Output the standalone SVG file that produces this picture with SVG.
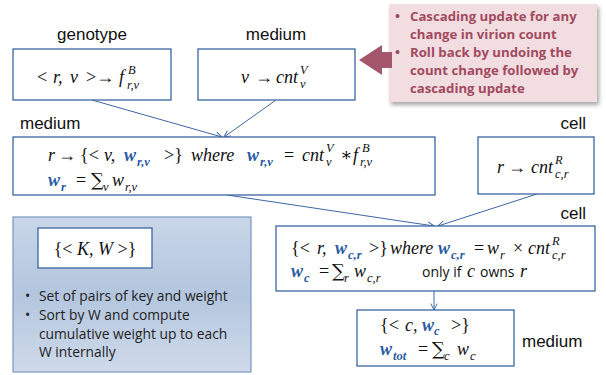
<svg xmlns="http://www.w3.org/2000/svg" width="606" height="375" viewBox="0 0 606 375">
<defs>
<style>
.box{fill:#fff;stroke:#3c66a3;stroke-width:1.3}
.lbl{font-family:"Liberation Sans",Arial,sans-serif;font-size:17px;fill:#111}
.m{font-family:"Liberation Serif","DejaVu Serif",serif;font-style:italic;font-size:18px;fill:#111}
.u{font-style:normal}
.b{font-weight:bold;fill:#2a5ba3}
.s{font-size:12.5px}
.sum{font-family:"DejaVu Serif",serif;font-style:normal;font-size:18px}
.sans{font-family:"Open Sans","Liberation Sans",sans-serif;font-style:normal;font-size:14px}
.call{font-family:"Open Sans","Liberation Sans",sans-serif;font-weight:bold;font-size:13.2px;fill:#a24a60}
.leg{font-family:"Open Sans","Liberation Sans",sans-serif;font-size:13.8px;fill:#222}
.conn line{stroke:#3c66a3;stroke-width:1;marker-end:url(#ah)}
</style>
<marker id="ah" viewBox="0 0 10 10" refX="9" refY="5" markerWidth="8" markerHeight="8" orient="auto" markerUnits="userSpaceOnUse">
<path d="M1,1 L9,5 L1,9" fill="none" stroke="#3c66a3" stroke-width="1.2"/>
</marker>
<linearGradient id="lg" x1="0" y1="0" x2="0" y2="1">
<stop offset="0" stop-color="#c9d6e8"/>
<stop offset="0.5" stop-color="#b3c6de"/>
<stop offset="1" stop-color="#cfdaea"/>
</linearGradient>
<filter id="sh" x="-10%" y="-10%" width="130%" height="130%">
<feGaussianBlur in="SourceAlpha" stdDeviation="2"/>
<feOffset dx="2" dy="3"/>
<feComponentTransfer><feFuncA type="linear" slope="0.35"/></feComponentTransfer>
<feMerge><feMergeNode/><feMergeNode in="SourceGraphic"/></feMerge>
</filter>
</defs>

<g id="connectors" class="conn">
<line x1="92" y1="100" x2="222" y2="137"/>
<line x1="276" y1="100" x2="224" y2="137"/>
<line x1="227" y1="195" x2="434" y2="226"/>
<line x1="537" y1="194" x2="438" y2="226"/>
<line x1="434" y1="291" x2="434" y2="310"/>
</g>

<g id="callout">
<rect x="389" y="4" width="208" height="98" fill="#f2dde0" filter="url(#sh)"/>
<path d="M359,60 L382,45 L382,52 L392,52 L392,68 L382,68 L382,75 Z" fill="#a4566a"/>
<text class="call" x="395" y="21">•</text>
<text class="call" x="410" y="21">Cascading update for any</text>
<text class="call" x="410" y="39">change in virion count</text>
<text class="call" x="395" y="57">•</text>
<text class="call" x="410" y="57">Roll back by undoing the</text>
<text class="call" x="410" y="75">count change followed by</text>
<text class="call" x="410" y="93">cascading update</text>
</g>

<g id="genotype">
<text class="lbl" x="92" y="40" text-anchor="middle">genotype</text>
<rect class="box" x="13" y="49" width="158" height="51"/>
<text class="m" y="83"><tspan x="37" class="u">&lt;</tspan><tspan x="53">r,</tspan><tspan x="70">v</tspan><tspan x="86" class="u">&gt;→</tspan><tspan x="119">f</tspan></text>
<text class="m s" x="128" y="74">B</text>
<text class="m s" x="127" y="89">r,v</text>
</g>

<g id="medium-v">
<text class="lbl" x="276" y="40" text-anchor="middle">medium</text>
<rect class="box" x="198" y="49" width="157" height="51"/>
<text class="m" y="83"><tspan x="241">v</tspan><tspan x="255" class="u">→</tspan><tspan x="276">cnt</tspan></text>
<text class="m s" x="300" y="74">V</text>
<text class="m s" x="300" y="88">v</text>
</g>

<g id="medium-r">
<text class="lbl" x="20" y="129">medium</text>
<rect class="box" x="13" y="137" width="422" height="58"/>
<text class="m" y="161"><tspan x="48">r</tspan><tspan x="58" class="u">→</tspan><tspan x="80" class="u">{&lt;</tspan><tspan x="104">v,</tspan><tspan x="124" class="b">w</tspan><tspan x="164" class="u">&gt;}</tspan><tspan x="191">where</tspan><tspan x="247" class="b">w</tspan><tspan x="284" class="u">=</tspan><tspan x="302">cnt</tspan><tspan x="340" class="u">∗</tspan><tspan x="353">f</tspan></text>
<text class="m s b" x="137" y="166">r,v</text>
<text class="m s b" x="260" y="166">r,v</text>
<text class="m s" x="326" y="152">V</text>
<text class="m s" x="326" y="166">v</text>
<text class="m s" x="362" y="152">B</text>
<text class="m s" x="360" y="166">r,v</text>
<text class="m" y="186"><tspan x="48" class="b">w</tspan><tspan x="76" class="u">=</tspan><tspan x="91" class="sum">∑</tspan><tspan x="112">w</tspan></text>
<text class="m s b" x="61" y="191">r</text>
<text class="m s" x="103" y="191">v</text>
<text class="m s" x="125" y="191">r,v</text>
</g>

<g id="cell-r">
<text class="lbl" x="586" y="129" text-anchor="end">cell</text>
<rect class="box" x="478" y="137" width="116" height="57"/>
<text class="m" y="173"><tspan x="497">r</tspan><tspan x="508" class="u">→</tspan><tspan x="531">cnt</tspan></text>
<text class="m s" x="555" y="164">R</text>
<text class="m s" x="555" y="178">c,r</text>
</g>

<g id="legend">
<rect x="13" y="217" width="238" height="155" fill="url(#lg)" stroke="#7a97bf" stroke-width="1.2"/>
<rect class="box" x="38" y="228" width="114" height="40" stroke="#2e5a96"/>
<text class="m" x="95" y="255" text-anchor="middle"><tspan class="u">{&lt; </tspan>K, W<tspan class="u"> &gt;}</tspan></text>
<text class="leg" x="25" y="301">•</text>
<text class="leg" x="39" y="301">Set of pairs of key and weight</text>
<text class="leg" x="25" y="320">•</text>
<text class="leg" x="39" y="320">Sort by W and compute</text>
<text class="leg" x="39" y="339">cumulative weight up to each</text>
<text class="leg" x="39" y="357">W internally</text>
</g>

<g id="cell-c">
<text class="lbl" x="586" y="219" text-anchor="end">cell</text>
<rect class="box" x="276" y="226" width="319" height="65"/>
<text class="m" y="254"><tspan x="291" class="u">{&lt;</tspan><tspan x="317">r,</tspan><tspan x="335" class="b">w</tspan><tspan x="369" class="u">&gt;}</tspan><tspan x="390">where</tspan><tspan x="438" class="b">w</tspan><tspan x="474" class="u">=</tspan><tspan x="487">w</tspan><tspan x="513" class="u">×</tspan><tspan x="528">cnt</tspan></text>
<text class="m s b" x="348" y="259">c,r</text>
<text class="m s b" x="451" y="259">c,r</text>
<text class="m s" x="500" y="259">r</text>
<text class="m s" x="552" y="245">R</text>
<text class="m s" x="552" y="259">c,r</text>
<text class="m" y="277"><tspan x="291" class="b">w</tspan><tspan x="319" class="u">=</tspan><tspan x="332" class="sum">∑</tspan><tspan x="354">w</tspan><tspan x="422" class="sans">only if</tspan><tspan x="467">c</tspan><tspan x="480" class="sans">owns</tspan><tspan x="520">r</tspan></text>
<text class="m s b" x="304" y="282">c</text>
<text class="m s" x="344" y="282">r</text>
<text class="m s" x="367" y="282">c,r</text>
</g>

<g id="medium-c">
<rect class="box" x="357" y="310" width="157" height="56"/>
<text class="lbl" x="522" y="347">medium</text>
<text class="m" y="331"><tspan x="380" class="u">{&lt;</tspan><tspan x="405">c,</tspan><tspan x="422" class="b">w</tspan><tspan class="b s" dy="4">c</tspan><tspan x="451" dy="-4" class="u">&gt;}</tspan></text>
<text class="m" y="355"><tspan x="380" class="b">w</tspan><tspan x="418" class="u">=</tspan><tspan x="432" class="sum">∑</tspan><tspan x="457">w</tspan></text>
<text class="m s b" x="393" y="360">tot</text>
<text class="m s" x="444" y="360">c</text>
<text class="m s" x="470" y="360">c</text>
</g>
</svg>
